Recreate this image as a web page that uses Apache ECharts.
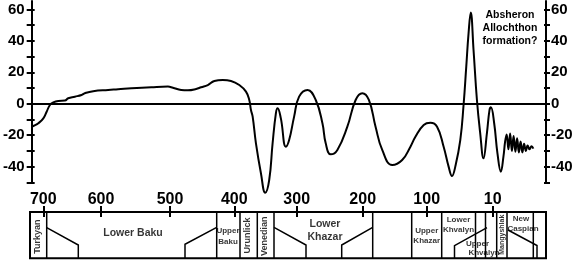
<!DOCTYPE html>
<html><head><meta charset="utf-8">
<script src="https://cdn.jsdelivr.net/npm/echarts@6/dist/echarts.min.js"></script>
<style>html,body{margin:0;padding:0;background:#fff}#c{width:577px;height:260px}</style>
</head><body><div id="c"></div>
<script>
// x axis is in figure-position units (the age scale of the original is non-linear)
const ageTickLabels = ['700','600','500','400','300','200','100','10'];
const ageTickPos    = [13.3, 71, 140, 204.3, 266.7, 332.7, 396.7, 462.7];

const curvePos = [0,3,6.7,11.7,15,18.3,21.7,26.7,33.3,36.7,43.3,50,53.3,61.7,76.7,86.7,100,120,136.7,141.7,150,156.7,165,170,
  176.7,183.3,191.7,200,208.3,215,218.3,220,221.7,225,230,234.3,238.3,241.7,245,246.7,250,255,258.3,263.3,268.3,276.7,
  285,291.7,295,300,306.7,316.7,325,331.7,338.3,345,351.7,361.7,371.7,380,385,393.3,400,406.7,413.3,418.3,421.7,425,430,
  433.3,436,438.3,440.5,443.3,446.7,450,453.3,456.7,459.3,460.7,464,467.3,470.7,473.3,475,
  476.5,478.3,480,481.8,483.5,485.3,487,488.8,490.5,492.3,494,495.8,497.5,499.5,501.5,503.3];
const curveVal = [-14.6,-13.8,-12.4,-9.3,-5.1,-0.8,0.9,1.8,2.0,3.5,4.5,5.6,6.7,8.0,8.8,9.2,9.8,10.5,10.9,10.2,8.8,8.6,9.4,10.5,
  11.9,14.5,15.1,14.5,11.9,7.7,2.4,-4.0,-8.2,-25.2,-44.2,-56.6,-48.5,-25.2,-6.1,-2.9,-9.3,-27.3,-23.1,-8.2,4.5,8.8,
  2.4,-12.4,-25.2,-32.2,-29.4,-14.6,2.4,6.7,2.4,-14.6,-29.4,-39.0,-35.8,-27.3,-21.0,-13.5,-12.1,-14.6,-27.3,-40.0,-46.0,-40.0,-23.1,
  -0.8,23.6,44.8,58.0,34.2,2.4,-18.8,-34.7,-18.8,-4.0,-2.3,-12.4,-31.5,-43.2,-33.7,-24,
  -19.5,-29,-19,-30,-20.5,-30.5,-22,-31,-24,-31,-25.5,-30,-26.5,-29,-27,-28.5];

const yTickValues  = [-50,-40,-30,-20,-10,0,10,20,30,40,50,60];
const yLabelValues = [-40,-20,0,20,40,60];

// stratigraphic table (bottom strip), table depth units 0 (top) .. 46.3 (bottom)
const tableDepth = 46.3;
const stageDividers = [16.7,186.7,210,227.3,244,342.7,381.7,411.7,445.5,455.5,466.7,477,503.3];
const stageWedges = [
  [[16.7,15.7],[48.3,33],[48.3,46.3]],
  [[155,46.3],[155,32.3],[186.7,15.3]],
  [[244,15.3],[276,33],[276,46.3]],
  [[311.7,46.3],[311.7,33],[342.7,15.3]],
  [[424.5,46.3],[424.5,33.7],[457,15.7]],
  [[478,18],[507,33.5],[507,46.3]]
];
const stageNames = ['Turkyan','Lower Baku','Upper','Baku','Urunlick','Venedian','Lower','Khazar','Upper','Khazar',
  'Lower','Khvalyn','Upper','Khvalyn','Mangyshlak','New','Caspian'];
// layout of each name: [x, depth, fontSize, rotate]
const stageNameLayout = [[8,24.7,9,90],[103,20.7,10.5,0],[198,19,8,0],[198,29.7,8,0],[217.7,23.5,9,90],[235,24.3,9,90],
  [295,12.3,10.5,0],[295,25.3,10.5,0],[396.7,19,8,0],[396.7,28.7,8,0],
  [428.5,8,8,0],[428.5,17.3,8,0],[447.5,31.3,8,0],[454,41,8,0],[471.7,22.7,7,90],[491,6.3,8,0],[493,17,8,0]];

const FONT = '"Liberation Sans", Arial, sans-serif';
const chart = echarts.init(document.getElementById('c'), null, {renderer:'canvas'});
const black = '#000';

const yAxisBase = {gridIndex:0, type:'value', min:-50, max:65.36, splitLine:{show:false}};
chart.setOption({
  animation:false,
  backgroundColor:'#fff',
  grid:[
    {left:30, right:31, top:1, height:181.35},
    {left:30, right:31, top:212, height:tableDepth, show:true, borderColor:black, borderWidth:2}
  ],
  xAxis:[
    {gridIndex:0, type:'value', min:0, max:516, position:'top',
      axisLine:{show:true, lineStyle:{color:black, width:2}}, axisTick:{show:false}, axisLabel:{show:false}, splitLine:{show:false}},
    {gridIndex:1, type:'value', min:0, max:516, position:'top',
      axisLine:{show:true, lineStyle:{color:black, width:2}},
      axisTick:{show:true, customValues:ageTickPos, length:6, lineStyle:{color:black, width:2}},
      axisLabel:{show:true, customValues:ageTickPos, margin:4, color:black, fontSize:16, fontWeight:'bold', fontFamily:FONT,
        formatter:v=>{const i=ageTickPos.findIndex(p=>Math.abs(p-v)<0.01); return i>=0?ageTickLabels[i]:'';}},
      splitLine:{show:false}},
    {gridIndex:1, type:'value', min:0, max:516, position:'top',
      axisLine:{show:false}, axisTick:{show:true, inside:true, customValues:ageTickPos, length:5, lineStyle:{color:black, width:2}},
      axisLabel:{show:false}, splitLine:{show:false}}
  ],
  yAxis:[
    Object.assign({}, yAxisBase, {position:'left',
      axisLine:{show:true, lineStyle:{color:black, width:2}},
      axisTick:{show:true, customValues:yTickValues, length:5, lineStyle:{color:black, width:2}},
      axisLabel:{show:true, customValues:yLabelValues, margin:7, color:black, fontSize:15, fontWeight:'bold', fontFamily:FONT}}),
    Object.assign({}, yAxisBase, {position:'left', axisLine:{show:false},
      axisTick:{show:true, inside:true, customValues:yTickValues, length:3, lineStyle:{color:black, width:2}}, axisLabel:{show:false}}),
    Object.assign({}, yAxisBase, {position:'right',
      axisLine:{show:true, lineStyle:{color:black, width:2}},
      axisTick:{show:true, customValues:yTickValues, length:4, lineStyle:{color:black, width:2}},
      axisLabel:{show:true, customValues:yLabelValues, margin:5, color:black, fontSize:15, fontWeight:'bold', fontFamily:FONT}}),
    Object.assign({}, yAxisBase, {position:'right', axisLine:{show:false},
      axisTick:{show:true, inside:true, customValues:yTickValues, length:2, lineStyle:{color:black, width:2}}, axisLabel:{show:false}}),
    {gridIndex:1, type:'value', inverse:true, min:0, max:tableDepth, show:false}
  ],
  series:[
    {type:'line', xAxisIndex:0, yAxisIndex:0, data:curvePos.map((x,i)=>[x,curveVal[i]]),
      smooth:0.45, showSymbol:false, clip:false, lineStyle:{color:black, width:2}, silent:true,
      markLine:{silent:true, symbol:['none','none'], label:{show:false},
        lineStyle:{color:black, width:1.5, type:[3,2.5]}, data:[{yAxis:0}]}},
    {type:'lines', coordinateSystem:'cartesian2d', xAxisIndex:1, yAxisIndex:4, polyline:true, silent:true,
      lineStyle:{color:black, width:1.5, opacity:1, curveness:0},
      data: stageDividers.map(x=>({coords:[[x,0],[x,tableDepth]]})).concat(stageWedges.map(w=>({coords:w})))},
    {type:'scatter', xAxisIndex:1, yAxisIndex:4, symbolSize:1, silent:true, itemStyle:{color:'transparent'},
      label:{show:true, position:'inside', color:black, fontWeight:'bold', fontFamily:FONT, align:'center', verticalAlign:'middle',
        formatter:p=>p.name},
      data: stageNames.map((n,i)=>{const L=stageNameLayout[i]; return {name:n, value:[L[0],L[1]], label:{fontSize:L[2], rotate:L[3]}};})}
  ],
  graphic:[
    {type:'text', x:510, y:9, silent:true,
      style:{text:'Absheron\nAllochthon\nformation?', align:'center', verticalAlign:'top', fill:black,
        fontSize:10.5, fontWeight:'bold', fontFamily:FONT, lineHeight:13}}
  ]
});
</script>
</body></html>
